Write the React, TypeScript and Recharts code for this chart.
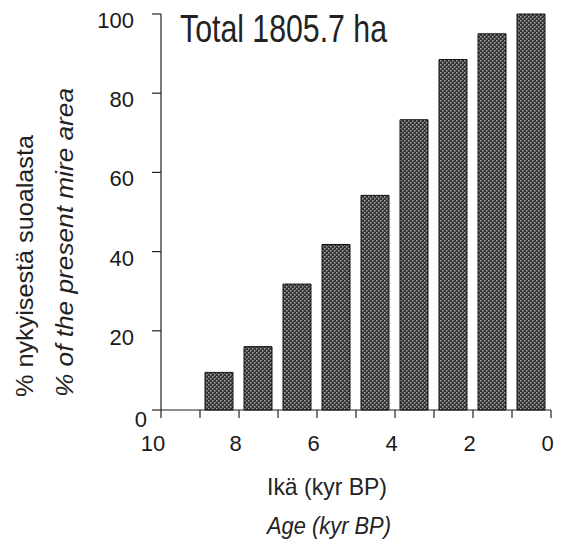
import React from 'react';
import { BarChart, Bar, XAxis, YAxis } from 'recharts';

const ages = [8.5, 7.5, 6.5, 5.5, 4.5, 3.5, 2.5, 1.5, 0.5];
const areaPercent = [9.5, 16, 31.8, 41.8, 54.2, 73.3, 88.5, 95, 100];
const xTicks = [0, 1, 2, 3, 4, 5, 6, 7, 8, 9, 10];
const xTickLabels = ['0', '', '2', '', '4', '', '6', '', '8', '', '10'];
const yTicks = [0, 20, 40, 60, 80, 100];

const title = 'Total 1805.7 ha';
const xTitleFi = 'Ikä (kyr BP)';
const xTitleEn = 'Age (kyr BP)';
const yTitleFi = '% nykyisestä suoalasta';
const yTitleEn = '% of the present mire area';

const data = ages.map((a, i) => ({ age: a, value: areaPercent[i] }));

const FONT = '"Liberation Sans", Arial, Helvetica, sans-serif';

const XTick = (props: any) => {
  const { x, y, payload } = props;
  const label = xTickLabels[xTicks.indexOf(payload.value)];
  if (!label) return null;
  const dx = payload.value === 10 ? -8 : -3.5;
  return (
    <text x={x + dx} y={y + 33} textAnchor="middle" fontFamily={FONT} fontSize={22} fill="#1a1a1a">
      {label}
    </text>
  );
};

const YTick = (props: any) => {
  const { x, y, payload } = props;
  const isZero = payload.value === 0;
  return (
    <text
      x={isZero ? x - 5 : x - 18}
      y={isZero ? y + 17 : y + 14}
      textAnchor="end"
      fontFamily={FONT}
      fontSize={22}
      fill="#1a1a1a"
    >
      {payload.value}
    </text>
  );
};

export default function App() {
  return (
    <div style={{ position: 'absolute', left: 0, top: 0, width: 561, height: 542, background: '#fff' }}>
      <svg width={0} height={0} style={{ position: 'absolute' }}>
        <defs>
          <pattern id="stipple" patternUnits="userSpaceOnUse" width={4} height={4}>
            <rect x={0} y={0} width={4} height={4} fill="#343434" />
            <rect x={0} y={0} width={1.5} height={1.5} fill="#a8a8a8" />
            <rect x={2} y={2} width={1.5} height={1.5} fill="#a8a8a8" />
          </pattern>
        </defs>
      </svg>
      <BarChart
        width={561}
        height={542}
        data={data}
        margin={{ top: 14, right: 10, bottom: 92, left: 101 }}
      >
        <XAxis
          dataKey="age"
          type="number"
          domain={[0, 10]}
          reversed
          ticks={xTicks}
          interval={0}
          tickSize={8}
          tickMargin={0}
          tick={<XTick />}
          height={40}
          axisLine={{ stroke: '#222', strokeWidth: 1.2 }}
          tickLine={{ stroke: '#222', strokeWidth: 1.2 }}
        />
        <YAxis
          type="number"
          domain={[0, 100]}
          ticks={yTicks}
          interval={0}
          tickSize={9}
          tickMargin={0}
          tick={<YTick />}
          width={60}
          axisLine={{ stroke: '#222', strokeWidth: 1.2 }}
          tickLine={{ stroke: '#222', strokeWidth: 1.2 }}
        />
        <Bar
          dataKey="value"
          barSize={28}
          fill="url(#stipple)"
          stroke="#111"
          strokeWidth={1}
          isAnimationActive={false}
        />
      </BarChart>
      <svg
        width={561}
        height={542}
        style={{ position: 'absolute', left: 0, top: 0, pointerEvents: 'none' }}
      >
        <text x={180} y={42} fontFamily={FONT} fontSize={39} fill="#222" textLength={207} lengthAdjust="spacingAndGlyphs">
          {title}
        </text>
        <text x={267} y={495} fontFamily={FONT} fontSize={24} fill="#222" textLength={120} lengthAdjust="spacingAndGlyphs">
          {xTitleFi}
        </text>
        <text x={267} y={534} fontFamily={FONT} fontSize={24} fontStyle="italic" fill="#222" textLength={124} lengthAdjust="spacingAndGlyphs">
          {xTitleEn}
        </text>
        <text
          transform="translate(33,397) rotate(-90)"
          fontFamily={FONT}
          fontSize={24}
          fill="#222"
          textLength={262}
          lengthAdjust="spacingAndGlyphs"
        >
          {yTitleFi}
        </text>
        <text
          transform="translate(73,397) rotate(-90)"
          fontFamily={FONT}
          fontSize={24}
          fontStyle="italic"
          fill="#222"
          textLength={309}
          lengthAdjust="spacingAndGlyphs"
        >
          {yTitleEn}
        </text>
      </svg>
    </div>
  );
}
